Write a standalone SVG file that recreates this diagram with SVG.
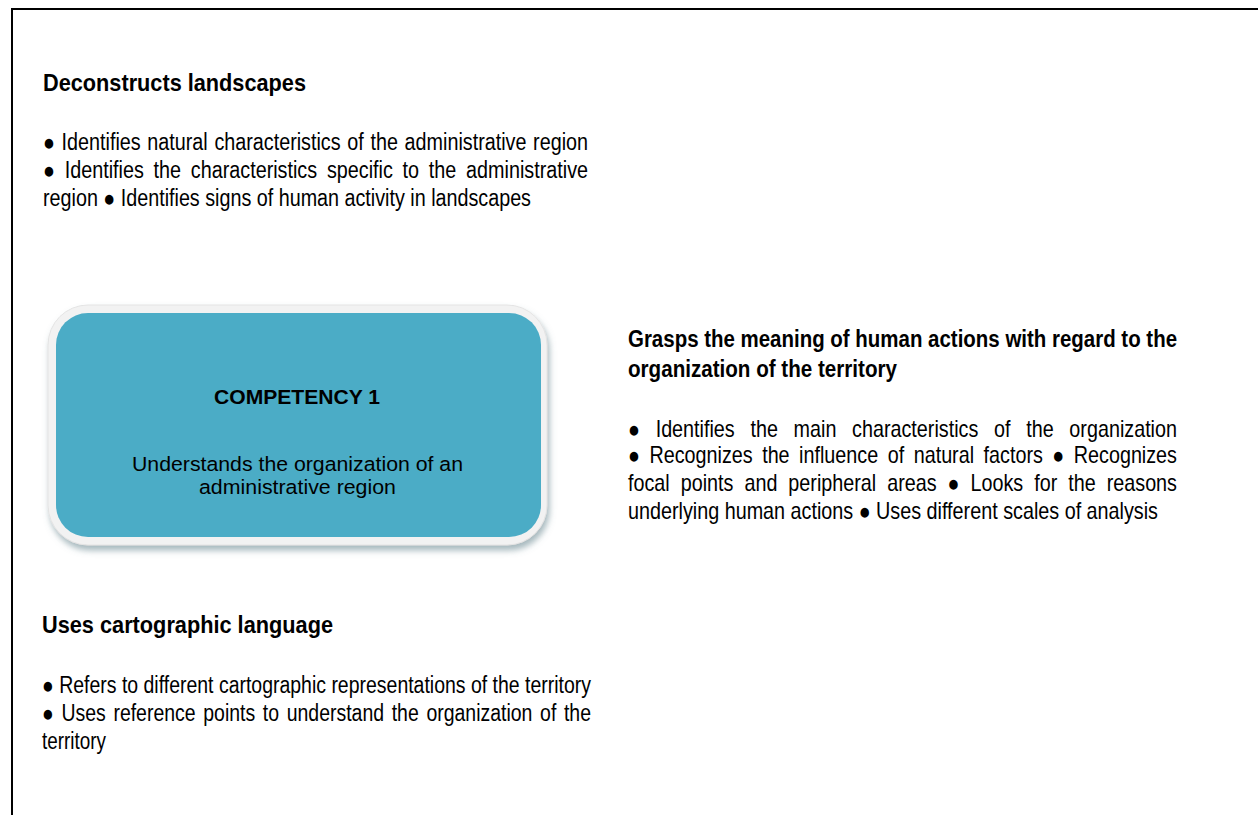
<svg xmlns="http://www.w3.org/2000/svg" width="1258" height="815" viewBox="0 0 1258 815">
  <style>
    .h { font-family: "Liberation Sans", Arial, sans-serif; font-weight: bold; font-size: 24px; fill: #000; }
    .b { font-family: "Liberation Sans", Arial, sans-serif; font-size: 23px; fill: #000; }
    .c { font-family: "Liberation Sans", Arial, sans-serif; font-size: 20.5px; fill: #000; text-anchor: middle; }
    .cb { font-weight: bold; font-size: 21px; }
  </style>
  <defs>
    <filter id="shadow" x="-10%" y="-10%" width="125%" height="130%">
      <feDropShadow dx="2" dy="5" stdDeviation="3" flood-color="#5f7f88" flood-opacity="0.55"/>
    </filter>
  </defs>
  <rect width="1258" height="815" fill="#fff"/>
  <path id="frame" d="M12,815 L12,9 L1258,9" fill="none" stroke="#000" stroke-width="2"/>
  <g id="connectors"/>

  <g id="node-deconstructs">
    <text class="h" x="43" y="91" textLength="263" lengthAdjust="spacingAndGlyphs">Deconstructs landscapes</text>
    <text class="b" x="43" y="150" textLength="545" lengthAdjust="spacingAndGlyphs" style="word-spacing:1.4px">● Identifies natural characteristics of the administrative region</text>
    <text class="b" x="43" y="178" textLength="545" lengthAdjust="spacingAndGlyphs" style="word-spacing:5px">● Identifies the characteristics specific to the administrative</text>
    <text class="b" x="43" y="206" textLength="488" lengthAdjust="spacingAndGlyphs">region ● Identifies signs of human activity in landscapes</text>
  </g>

  <g id="node-competency">
    <rect x="48" y="305" width="499" height="240" rx="40" ry="40" fill="#f2f2f2" stroke="#e4e4e4" stroke-width="1" filter="url(#shadow)"/>
    <rect x="56" y="313" width="485" height="224" rx="32" ry="32" fill="#4bacc6"/>
    <text class="c cb" x="297" y="404" textLength="166" lengthAdjust="spacingAndGlyphs">COMPETENCY 1</text>
    <text class="c" x="297.5" y="471" textLength="331" lengthAdjust="spacingAndGlyphs">Understands the organization of an</text>
    <text class="c" x="297.5" y="494" textLength="197" lengthAdjust="spacingAndGlyphs">administrative region</text>
  </g>

  <g id="node-grasps">
    <text class="h" transform="matrix(0.852,0,0,1,628,347)" x="0" y="0" textLength="644.4" lengthAdjust="spacingAndGlyphs">Grasps the meaning of human actions with regard to the</text>
    <text class="h" transform="matrix(0.852,0,0,1,628,377)" x="0" y="0" textLength="315.7" lengthAdjust="spacingAndGlyphs">organization of the territory</text>
    <text class="b" transform="matrix(0.859,0,0,1,628,436.5)" x="0" y="0" textLength="639.1" lengthAdjust="spacingAndGlyphs" style="word-spacing:11.9px">● Identifies the main characteristics of the organization</text>
    <text class="b" transform="matrix(0.859,0,0,1,628,463)" x="0" y="0" textLength="639.1" lengthAdjust="spacingAndGlyphs" style="word-spacing:4.7px">● Recognizes the influence of natural factors ● Recognizes</text>
    <text class="b" transform="matrix(0.859,0,0,1,628,490.5)" x="0" y="0" textLength="639.1" lengthAdjust="spacingAndGlyphs" style="word-spacing:6.4px">focal points and peripheral areas ● Looks for the reasons</text>
    <text class="b" transform="matrix(0.859,0,0,1,628,518.5)" x="0" y="0" textLength="617" lengthAdjust="spacingAndGlyphs">underlying human actions ● Uses different scales of analysis</text>
  </g>

  <g id="node-cartographic">
    <text class="h" x="42" y="633" textLength="291" lengthAdjust="spacingAndGlyphs">Uses cartographic language</text>
    <text class="b" x="42" y="693" textLength="549" lengthAdjust="spacingAndGlyphs">● Refers to different cartographic representations of the territory</text>
    <text class="b" x="42" y="721" textLength="549" lengthAdjust="spacingAndGlyphs" style="word-spacing:2.7px">● Uses reference points to understand the organization of the</text>
    <text class="b" x="42" y="749" textLength="64" lengthAdjust="spacingAndGlyphs">territory</text>
  </g>
</svg>
